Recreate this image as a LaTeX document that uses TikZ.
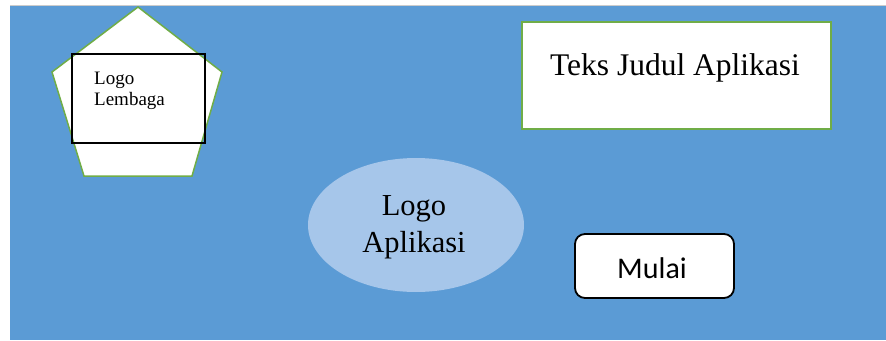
\documentclass[tikz,border=0pt]{standalone}
\usepackage{fontspec}
\setmainfont{Liberation Serif}
\newfontfamily\calib{Carlito}
\definecolor{bgblue}{HTML}{5B9BD5}
\definecolor{ellblue}{HTML}{A6C6EA}
\definecolor{grn}{HTML}{70AD47}
\tikzset{
  txt/.style={inner sep=0pt, anchor=base, align=center},
}
\begin{document}
\begin{tikzpicture}[x=1pt,y=-1pt]
\useasboundingbox (0,0) rectangle (886,340);
\fill[white] (0,0) rectangle (886,340);
\fill[bgblue] (10,6) rectangle (886,340);
\draw[gray!40, line width=1pt] (10,5.5) -- (886,5.5);
% pentagon
\draw[grn, line width=1.5pt, fill=white] (138,7) -- (222,72) -- (192,176) -- (84,176) -- (52,72) -- cycle;
\node[draw=black, line width=2pt, fill=none, minimum width=133pt, minimum height=89pt, inner sep=0pt] (lembagabox) at (138.5,98.5) {};
\node[inner sep=0pt, anchor=base west, align=left, font=\fontsize{19}{21}\selectfont] (lembaga) at (94,105) {Logo\\Lembaga};
% title box
\node[draw=grn, line width=2pt, fill=white, minimum width=309pt, minimum height=107pt, inner sep=0pt] (titlebox) at (676.5,75.5) {};
\node[txt, font=\fontsize{31.5}{35}\selectfont] (title) at (675,75) {Teks Judul Aplikasi};
% ellipse
\fill[ellblue] (416,225) ellipse [x radius=108, y radius=67];
\node[txt, font=\fontsize{30.5}{37}\selectfont] (applogo) at (414,252) {Logo\\Aplikasi};
% button
\node[draw=black, line width=1.8pt, fill=white, rounded corners=10pt, minimum width=159pt, minimum height=64pt, inner sep=0pt] (mulaibox) at (654.5,266) {};
\node[txt, font=\calib\fontsize{30}{32}\selectfont] (mulai) at (652,278) {Mulai};
\end{tikzpicture}
\end{document}
